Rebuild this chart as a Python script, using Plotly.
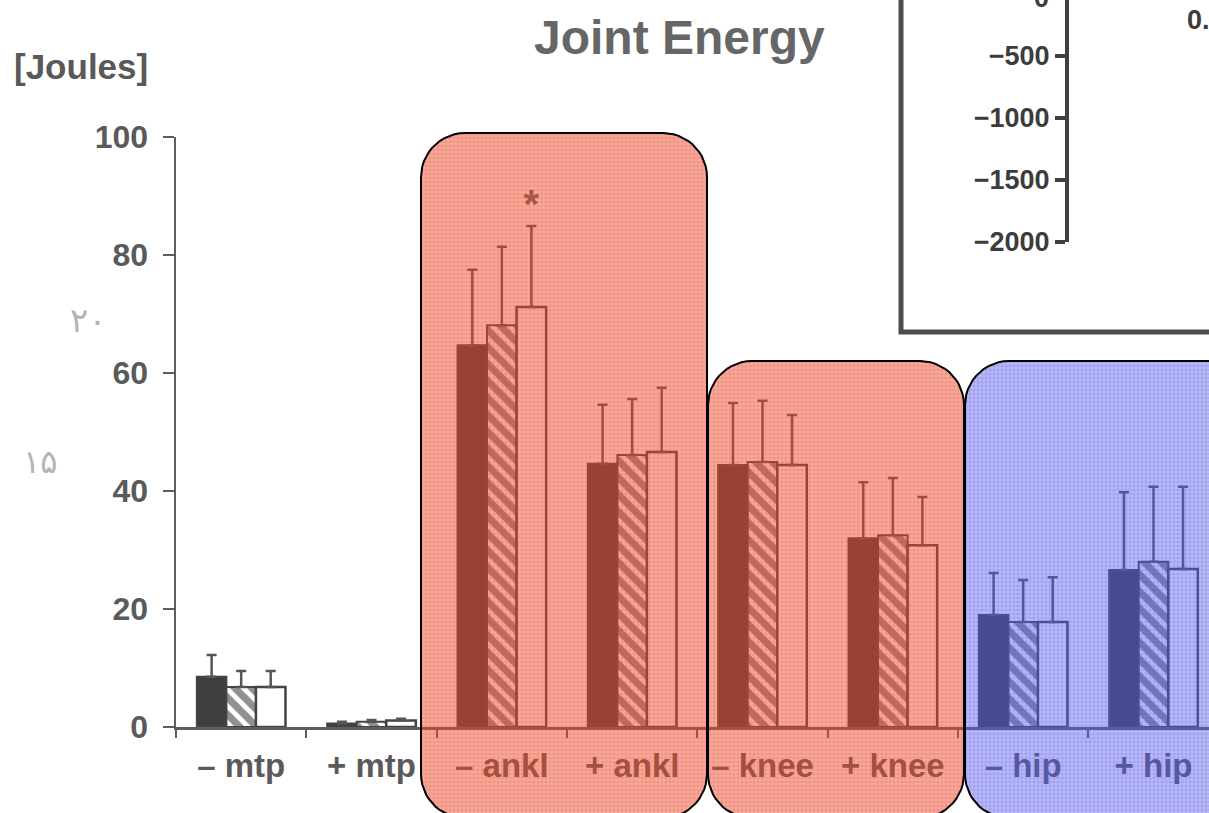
import numpy as np
import plotly.graph_objects as go

# ---------------- data ----------------
categories = ["– mtp", "+ mtp", "– ankl", "+ ankl", "– knee", "+ knee", "– hip", "+ hip"]
black_vals = [8.5, 0.6, 64.7, 44.6, 44.4, 32.0, 19.0, 26.6]
black_err = [3.7, 0.3, 12.8, 10.0, 10.5, 9.5, 7.1, 13.2]
hatch_vals = [6.8, 0.9, 68.1, 46.1, 44.9, 32.5, 17.8, 28.0]
hatch_err = [2.7, 0.3, 13.3, 9.5, 10.4, 9.7, 7.1, 12.7]
white_vals = [6.8, 1.1, 71.2, 46.6, 44.4, 30.8, 17.8, 26.8]
white_err = [2.7, 0.3, 13.7, 10.9, 8.5, 8.2, 7.6, 13.9]
y_ticks = [0, 20, 40, 60, 80, 100]
inset_ticks = [-500, -1000, -1500, -2000]
star_category = 2
star_value = 88.0

W, H = 1209, 813
FONT = "Liberation Sans, Arial, sans-serif"
TXT = "#5a5a5a"
AX = "#5e5e5e"

xpos = list(range(len(categories)))
fig = go.Figure()

err_style = dict(type="data", symmetric=False, color="#555555", thickness=2.5, width=5)

fig.add_trace(go.Bar(x=xpos, y=black_vals, marker=dict(color="#3e3e3e", line=dict(color="#444444", width=2)),
                     error_y=dict(array=black_err, arrayminus=[0]*8, **err_style)))
fig.add_trace(go.Bar(x=xpos, y=hatch_vals,
                     marker=dict(color="white", line=dict(color="#444444", width=2),
                                 pattern=dict(shape="\\", fgcolor="#222222", bgcolor="white", size=12, solidity=0.6)),
                     error_y=dict(array=hatch_err, arrayminus=[0]*8, **err_style)))
fig.add_trace(go.Bar(x=xpos, y=white_vals, marker=dict(color="white", line=dict(color="#444444", width=2.5)),
                     error_y=dict(array=white_err, arrayminus=[0]*8, **err_style)))

bargap = 0.32
bw = (1 - bargap) / 3
fig.add_trace(go.Scatter(x=[star_category + bw], y=[star_value], mode="text", text=["*"],
                         textfont=dict(family=FONT, size=40, color="#666666", weight="bold"),
                         textposition="middle center"))

# ---------------- inset axis ----------------
fig.add_trace(go.Scatter(x=[None], y=[None], xaxis="x2", yaxis="y2", mode="lines"))

# ---------------- overlay boxes (pixel space) ----------------
def rounded_rect(x0, y0, x1, y1, r, n=14):
    xs, ys = [], []
    corners = [(x1 - r, y0 + r, -90, 0), (x1 - r, y1 - r, 0, 90),
               (x0 + r, y1 - r, 90, 180), (x0 + r, y0 + r, 180, 270)]
    for cx, cy, a0, a1 in corners:
        for t in np.linspace(np.radians(a0), np.radians(a1), n):
            xs.append(cx + r * np.cos(t))
            ys.append(cy + r * np.sin(t))
    xs.append(xs[0]); ys.append(ys[0])
    return xs, ys

RED_BG, RED_FG = "rgba(235,75,45,0.46)", "rgba(230,40,15,0.7)"
BLUE_BG, BLUE_FG = "rgba(90,90,235,0.42)", "rgba(60,60,220,0.7)"
boxes = [
    ((421, 133, 707, 818, 44), RED_BG, RED_FG),
    ((708, 361, 964, 818, 44), RED_BG, RED_FG),
    ((965, 361, 1260, 818, 44), BLUE_BG, BLUE_FG),
]
for (x0, y0, x1, y1, r), bg, fg in boxes:
    bx, by = rounded_rect(x0, y0, x1, y1, r)
    fig.add_trace(go.Scatter(x=bx, y=by, xaxis="x3", yaxis="y3", mode="lines", fill="toself",
                             line=dict(color="black", width=2), fillcolor=bg,
                             fillpattern=dict(shape="+", fgcolor=fg, bgcolor=bg, size=4, solidity=0.3)))

# ---------------- layout ----------------
x_left = 176
cat_px = (958 - 176) / 6.0
x_right_val = -0.5 + (W - x_left) / cat_px
y_bot, y_top = 727, 137

fig.update_layout(
    width=W, height=H, margin=dict(l=0, r=0, t=0, b=0, pad=0, autoexpand=False),
    paper_bgcolor="white", plot_bgcolor="rgba(0,0,0,0)",
    showlegend=False, hovermode=False,
    barmode="group", bargap=bargap, bargroupgap=0,
    xaxis=dict(domain=[x_left / W, 1], range=[-0.5, x_right_val], anchor="y",
               tickvals=xpos, ticktext=categories, ticks="outside", ticklen=8,
               tickcolor="rgba(0,0,0,0)", showgrid=False, zeroline=False, automargin=False,
               showline=True, linecolor=AX, linewidth=2.5,
               tickfont=dict(family=FONT, size=33, color=TXT, weight="bold"),
               minor=dict(tickvals=[i - 0.5 for i in range(len(categories) + 1)], ticks="outside",
                          ticklen=8, tickwidth=2, tickcolor=AX)),
    yaxis=dict(domain=[(H - y_bot) / H, (H - y_top) / H], range=[0, 100], anchor="x",
               tickvals=y_ticks, ticks="outside", ticklen=11, tickwidth=2.5, tickcolor=AX,
               showgrid=False, zeroline=False, showline=True, linecolor=AX, linewidth=2.5,
               ticklabelstandoff=8, automargin=False,
               tickfont=dict(family=FONT, size=32, color=TXT, weight="bold")),
    xaxis2=dict(domain=[1069 / W, 1], range=[0, 1], anchor="y2", visible=False),
    yaxis2=dict(domain=[(H - 242) / H, 1], range=[-2000, -48], anchor="x2", automargin=False,
                tickvals=inset_ticks, ticks="outside", ticklen=10, tickwidth=4, tickcolor="#404040",
                showgrid=False, zeroline=False, showline=True, linecolor="#404040", linewidth=4,
                tickfont=dict(family=FONT, size=27, color="#3c3c3c", weight="bold")),
    xaxis3=dict(domain=[0, 1], range=[0, W], anchor="y3", visible=False, fixedrange=True),
    yaxis3=dict(domain=[0, 1], range=[H, 0], anchor="x3", visible=False, fixedrange=True),
    shapes=[dict(type="rect", xref="paper", yref="paper", x0=901 / W, x1=1.05, y0=(H - 332) / H, y1=1.05,
                 line=dict(color="#4c4c4c", width=5), fillcolor="white", layer="below")],
    annotations=[
        dict(text="Joint Energy", x=679 / W, y=1 - 37 / H, xref="paper", yref="paper", showarrow=False,
             xanchor="center", yanchor="middle", font=dict(family=FONT, size=48, color="#666666", weight="bold")),
        dict(text="[Joules]", x=12 / W, y=1 - 66 / H, xref="paper", yref="paper", showarrow=False,
             xanchor="left", yanchor="middle", font=dict(family=FONT, size=35, color="#595959", weight="bold")),
        dict(text="۲۰", x=88 / W, y=1 - 320 / H, xref="paper", yref="paper", showarrow=False,
             xanchor="center", yanchor="middle", font=dict(family="DejaVu Sans", size=34, color="#b4b4b4")),
        dict(text="۱۵", x=40 / W, y=1 - 462 / H, xref="paper", yref="paper", showarrow=False,
             xanchor="center", yanchor="middle", font=dict(family="DejaVu Sans", size=32, color="#b4b4b4")),
        dict(text="0", x=1041 / W, y=1 + 2 / H, xref="paper", yref="paper", showarrow=False,
             xanchor="center", yanchor="middle", font=dict(family=FONT, size=27, color="#3c3c3c", weight="bold")),
        dict(text="0.", x=1185 / W, y=1 - 20 / H, xref="paper", yref="paper", showarrow=False,
             xanchor="left", yanchor="middle", font=dict(family=FONT, size=27, color="#3c3c3c", weight="bold")),
    ],
)

fig.write_html("out.html", config={"displayModeBar": False, "staticPlot": True},
               post_script="document.body.style.margin='0';document.body.style.overflow='hidden';")
